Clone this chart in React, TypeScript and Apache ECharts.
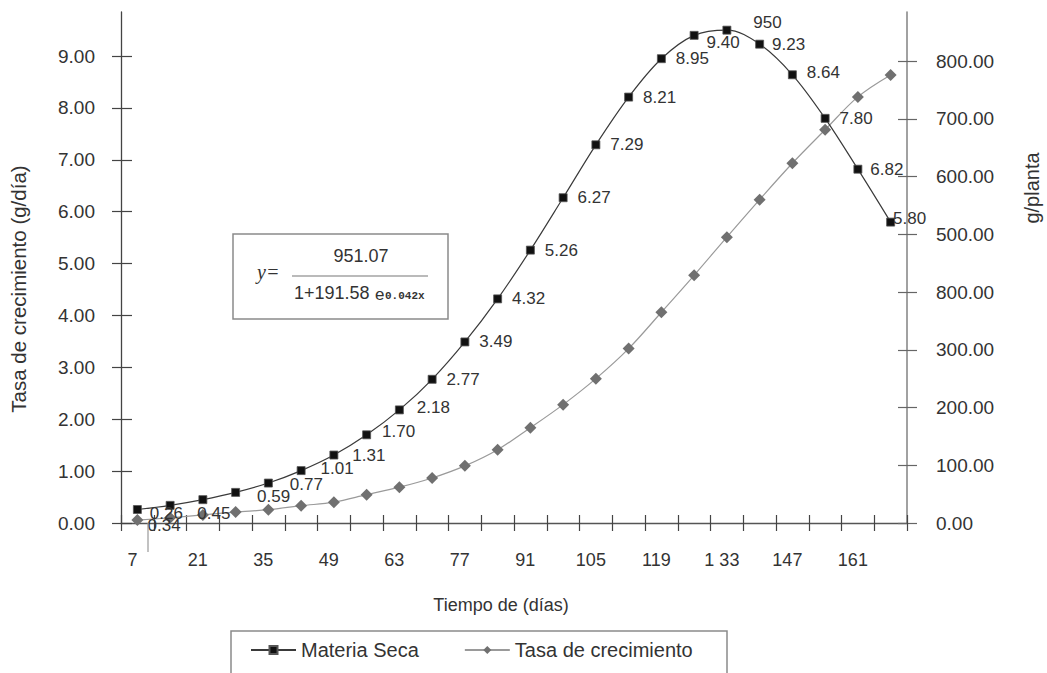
import React, { useEffect, useRef } from 'react';
import * as echarts from 'echarts';

// ---- Data ----
const days = ['7', '14', '21', '28', '35', '42', '49', '56', '63', '70', '77', '84', '91', '98', '105', '112', '119', '126', '133', '140', '147', '154', '161', '168'];
const dayTickLabels = ['7', '', '21', '', '35', '', '49', '', '63', '', '77', '', '91', '', '105', '', '119', '', '1 33', '', '147', '', '161', ''];
const materiaSeca = [0.26, 0.34, 0.45, 0.59, 0.77, 1.01, 1.31, 1.70, 2.18, 2.77, 3.49, 4.32, 5.26, 6.27, 7.29, 8.21, 8.95, 9.40, 9.50, 9.23, 8.64, 7.80, 6.82, 5.80];
const materiaSecaLabels = ['0.26', '0.34', '0.45', '0.59', '0.77', '1.01', '1.31', '1.70', '2.18', '2.77', '3.49', '4.32', '5.26', '6.27', '7.29', '8.21', '8.95', '9.40', '950', '9.23', '8.64', '7.80', '6.82', '5.80'];
const tasaCrecimiento = [5, 9, 14, 19, 23, 30, 36, 49, 62, 78, 99, 127, 165, 205, 250, 302, 365, 429, 495, 560, 623, 681, 738, 776];
const leftTicks = [0, 1, 2, 3, 4, 5, 6, 7, 8, 9];
const leftTickLabels = ['0.00', '1.00', '2.00', '3.00', '4.00', '5.00', '6.00', '7.00', '8.00', '9.00'];
const rightTicks = [0, 100, 200, 300, 400, 500, 600, 700, 800];
const rightTickLabels = ['0.00', '100.00', '200.00', '300.00', '800.00', '500.00', '600.00', '700.00', '800.00'];
const seriesNames = ['Materia Seca', 'Tasa de crecimiento'];

const FONT = '"Liberation Sans", Arial, sans-serif';

// label nudges (style only)
const labelOffsets: Record<number, [number, number]> = {
  0: [-2, 4], 1: [-37, 20], 2: [-20, 14], 3: [7, 4], 4: [7, 1], 5: [5, -2], 6: [4, 0],
  7: [1, -3], 8: [3, -2], 17: [-2, 7], 18: [12, -8], 19: [-2, 0], 20: [0, -2], 22: [-2, 0], 23: [-12, -4],
};

export default function App() {
  const ref = useRef<HTMLDivElement>(null);
  useEffect(() => {
    if (!ref.current) return;
    const chart = echarts.init(ref.current, undefined, { renderer: 'svg' });
    const option: any = {
      animation: false,
      backgroundColor: '#ffffff',
      textStyle: { fontFamily: FONT },
      grid: { left: 121, right: 140, top: 12, bottom: 150, outerBoundsMode: 'none' },
      legend: {
        data: seriesNames,
        left: 250,
        top: 640,
        padding: 0,
        itemWidth: 45,
        itemHeight: 10,
        itemGap: 45,
        textStyle: { fontSize: 20, color: '#333', fontFamily: FONT },
      },
      xAxis: [
        {
          type: 'category',
          data: days,
          position: 'bottom',
          boundaryGap: true,
          axisLine: { show: true, lineStyle: { color: '#555', width: 1.3 } },
          axisTick: { show: true, interval: 0, length: 8, lineStyle: { color: '#444', width: 1.2 } },
          axisLabel: {
            interval: 0,
            margin: 28,
            fontSize: 18,
            color: '#333',
            fontFamily: FONT,
            padding: [0, 10, 0, 0],
            formatter: (_v: string, i: number) => dayTickLabels[i],
          },
          splitLine: { show: false },
        },
        {
          type: 'category',
          data: days,
          position: 'bottom',
          boundaryGap: true,
          axisLine: { show: false },
          axisTick: { show: true, inside: true, interval: 0, length: 8, lineStyle: { color: '#444', width: 1.2 } },
          axisLabel: { show: false },
          splitLine: { show: false },
        },
      ],
      yAxis: [
        {
          type: 'value',
          position: 'left',
          min: 0,
          max: 9.85,
          axisLine: { show: true, lineStyle: { color: '#444', width: 1.3 } },
          axisTick: { show: true, length: 9, customValues: leftTicks, lineStyle: { color: '#444', width: 1.2 } },
          axisLabel: {
            customValues: leftTicks,
            margin: 26,
            fontSize: 19,
            color: '#333',
            fontFamily: FONT,
            formatter: (v: number) => leftTickLabels[Math.round(v)],
          },
          splitLine: { show: false },
        },
        {
          type: 'value',
          position: 'right',
          min: 0,
          max: 885,
          axisLine: { show: true, lineStyle: { color: '#8a8a8a', width: 1.6 } },
          axisTick: { show: true, length: 10, customValues: rightTicks, lineStyle: { color: '#666', width: 1.2 } },
          axisLabel: {
            customValues: rightTicks,
            margin: 29,
            fontSize: 19,
            color: '#333',
            fontFamily: FONT,
            padding: [0, 0, 6, 0],
            formatter: (v: number) => rightTickLabels[Math.round(v / 100)],
          },
          splitLine: { show: false },
        },
        {
          type: 'value',
          position: 'left',
          min: 0,
          max: 9.85,
          axisLine: { show: false },
          axisTick: { show: true, inside: true, length: 11, customValues: leftTicks, lineStyle: { color: '#444', width: 1.2 } },
          axisLabel: { show: false },
          splitLine: { show: false },
        },
        {
          type: 'value',
          position: 'right',
          min: 0,
          max: 885,
          axisLine: { show: false },
          axisTick: { show: true, inside: true, length: 9, customValues: rightTicks, lineStyle: { color: '#666', width: 1.2 } },
          axisLabel: { show: false },
          splitLine: { show: false },
        },
      ],
      series: [
        {
          name: seriesNames[0],
          type: 'line',
          xAxisIndex: 0,
          yAxisIndex: 0,
          smooth: 0.35,
          symbol: 'rect',
          symbolSize: 8,
          itemStyle: { color: '#111', borderColor: '#555', borderWidth: 0.8 },
          lineStyle: { color: '#3a3a3a', width: 1.2 },
          label: {
            show: true,
            position: 'right',
            distance: 10,
            fontSize: 17,
            color: '#333',
            fontFamily: FONT,
            formatter: (p: any) => materiaSecaLabels[p.dataIndex],
          },
          data: materiaSeca.map((v, i) => (labelOffsets[i] ? { value: v, label: { offset: labelOffsets[i] } } : v)),
          z: 3,
        },
        {
          name: seriesNames[1],
          type: 'line',
          xAxisIndex: 0,
          yAxisIndex: 1,
          smooth: 0.35,
          symbol: 'diamond',
          symbolSize: 12,
          itemStyle: { color: '#707070' },
          lineStyle: { color: '#9a9a9a', width: 1.2 },
          label: { show: false },
          data: tasaCrecimiento,
          z: 2,
        },
      ],
      graphic: [
        // equation box
        { type: 'rect', shape: { x: 233, y: 234, width: 215, height: 85 }, style: { fill: 'none', stroke: '#8a8a8a', lineWidth: 1.5 }, z: 10 },
        { type: 'text', x: 257, y: 272, style: { text: 'y=', font: 'italic 20px "Liberation Serif", serif', fill: '#333', verticalAlign: 'middle' }, z: 10 },
        { type: 'line', shape: { x1: 292, y1: 276, x2: 428, y2: 276 }, style: { stroke: '#777', lineWidth: 1.2 }, z: 10 },
        { type: 'text', x: 361, y: 256, style: { text: '951.07', font: '18px ' + FONT, fill: '#333', align: 'center', verticalAlign: 'middle' }, z: 10 },
        { type: 'text', x: 294, y: 293, style: { text: '1+191.58', font: '18px ' + FONT, fill: '#333', verticalAlign: 'middle' }, z: 10 },
        { type: 'text', x: 375, y: 294, style: { text: 'e', font: '17px ' + FONT, fill: '#333', verticalAlign: 'middle' }, z: 10 },
        { type: 'text', x: 385, y: 296, style: { text: '0.042x', font: 'bold 11px "Liberation Mono", monospace', fill: '#333', verticalAlign: 'middle' }, z: 10 },
        // axis titles
        { type: 'text', x: 501, y: 605, style: { text: 'Tiempo de (días)', font: '18px ' + FONT, fill: '#333', align: 'center', verticalAlign: 'middle' }, z: 10 },
        { type: 'text', x: 18, y: 289, rotation: Math.PI / 2, style: { text: 'Tasa de crecimiento (g/día)', font: '20.5px ' + FONT, fill: '#333', align: 'center', verticalAlign: 'middle' }, z: 10 },
        { type: 'text', x: 1032, y: 188, rotation: Math.PI / 2, style: { text: 'g/planta', font: '20px ' + FONT, fill: '#333', align: 'center', verticalAlign: 'middle' }, z: 10 },
        // legend frame
        { type: 'rect', shape: { x: 231, y: 631, width: 496, height: 60 }, style: { fill: 'none', stroke: '#8a8a8a', lineWidth: 1.5 }, z: 10 },
        // stray tick below axis
        { type: 'line', shape: { x1: 148, y1: 523, x2: 148, y2: 552 }, style: { stroke: '#999', lineWidth: 1.2 }, z: 10 },
      ],
    };
    chart.setOption(option);
    return () => chart.dispose();
  }, []);
  return <div ref={ref} style={{ position: 'fixed', left: 0, top: 0, width: 1047, height: 673 }} />;
}
